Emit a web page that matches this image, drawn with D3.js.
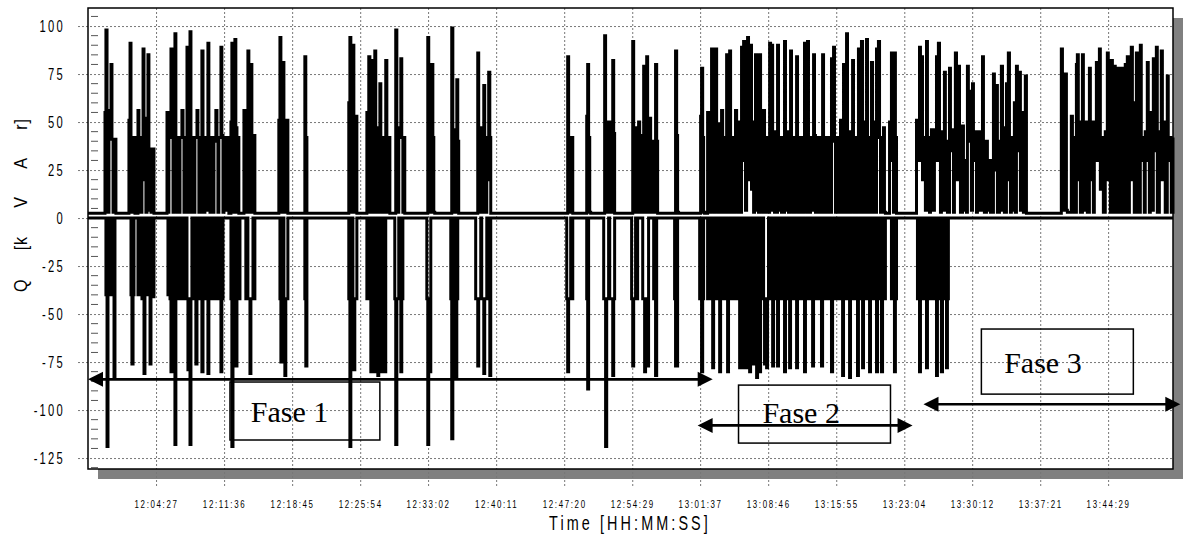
<!DOCTYPE html>
<html>
<head>
<meta charset="utf-8">
<script src="https://cdn.jsdelivr.net/npm/d3@7"></script>
<style>
  body { margin: 0; background: #fff; }
  .narrow { font-family: "Liberation Sans", Arial, sans-serif; fill: #000; }
  .fase { font-family: "Liberation Serif", "Times New Roman", serif; font-size: 30px; fill: #000; }
</style>
</head>
<body>
<svg id="chart" width="1183" height="542"></svg>
<script>
// recording window and axis ticks
const startClock = '11:57:18'
const endClock = '13:51:18'
const timeTicks = ['12:04:27', '12:11:36', '12:18:45', '12:25:54', '12:33:02', '12:40:11', '12:47:20',
  '12:54:29', '13:01:37', '13:08:46', '13:15:55', '13:23:04', '13:30:12', '13:37:21', '13:44:29']
const qTicks = [100, 75, 50, 25, 0, -25, -50, -75, -100, -125]

// Q [kVAr] change points: [seconds since start, value held until next point]
const fase1Pos = [[0, 2.5],
  [107, 55], [113, 98], [120, 47], [126, 3], [132, 47], [139, 56], [145, 80], [151, 41], [158, 3], [164, 41], [176, 2.5],
  [258, 51], [265, 91], [271, 42], [277, 3], [284, 42], [296, 2.5],
  [315, 56], [321, 3], [328, 42], [334, 3], [340, 42], [347, 88], [353, 20], [359, 52], [365, 3], [372, 52], [378, 85],
  [384, 4], [391, 36], [397, 3], [403, 36], [416, 2.5],
  [498, 55], [504, 3], [510, 42], [523, 88], [529, 42], [536, 3], [542, 42], [548, 96], [554, 42], [561, 3], [567, 42],
  [573, 3], [580, 42], [592, 56], [599, 42], [605, 3], [611, 42], [617, 3], [624, 89], [630, 42], [636, 3], [643, 97],
  [649, 42], [655, 3], [662, 42], [668, 3], [674, 42], [687, 56], [693, 42], [699, 3], [706, 42], [712, 3], [718, 87],
  [725, 42], [731, 3], [737, 42], [743, 4], [750, 42], [756, 91], [762, 42], [769, 3], [775, 42], [788, 3], [794, 40],
  [806, 56], [813, 42], [819, 3], [825, 42], [838, 89], [844, 43], [851, 3], [857, 42], [869, 4], [876, 42], [888, 2.5],
  [901, 50], [907, 91], [914, 42], [920, 3], [926, 93], [932, 47], [939, 3], [945, 42], [951, 2.5],
  [983, 56], [989, 3], [995, 42], [1002, 3], [1008, 87], [1014, 42], [1021, 3], [1027, 80], [1033, 43], [1040, 3],
  [1046, 43], [1052, 2.5],
  [1203, 51], [1210, 94], [1216, 51], [1222, 3], [1229, 81], [1235, 51], [1247, 3], [1254, 51], [1260, 2.5],
  [1367, 84], [1373, 42], [1380, 2.5],
  [1644, 60], [1651, 94], [1657, 50], [1663, 3], [1670, 90], [1676, 53], [1682, 3], [1688, 53], [1695, 2.5],
  [1758, 55], [1764, 3], [1770, 84], [1777, 42], [1783, 3], [1789, 82], [1796, 45], [1802, 3], [1808, 87], [1814, 47],
  [1821, 3], [1833, 47], [1840, 70], [1846, 42], [1852, 3], [1865, 42], [1871, 3], [1877, 82], [1884, 42], [1890, 3],
  [1896, 42], [1903, 2.5],
  [1940, 98], [1947, 47], [1953, 3], [1959, 47], [1972, 83], [1978, 42], [1985, 3], [1991, 42], [1997, 2.5],
  [2142, 94], [2148, 50], [2155, 3], [2161, 42], [2167, 80], [2174, 42], [2180, 3], [2186, 2.5],
  [2293, 99], [2300, 46], [2306, 3], [2318, 46], [2325, 72], [2331, 40], [2337, 2.5],
  [2457, 86], [2463, 47], [2470, 3], [2476, 47], [2482, 3], [2489, 47], [2495, 69], [2501, 42], [2507, 3], [2514, 42],
  [2520, 20], [2526, 76], [2533, 42], [2539, 2.5],
  [3024, 84], [3030, 39], [3037, 3], [3043, 42], [3056, 2.5],
  [3144, 53], [3150, 80], [3156, 42], [3163, 3], [3169, 2.5],
  [3257, 95], [3263, 50], [3270, 3], [3276, 44], [3282, 3], [3289, 50], [3295, 44], [3301, 3], [3308, 82], [3314, 44],
  [3320, 2.5],
  [3434, 92], [3440, 43], [3446, 3], [3452, 43], [3459, 47], [3465, 3], [3471, 50], [3478, 3], [3484, 43], [3490, 3],
  [3497, 43], [3503, 79], [3509, 40], [3515, 3], [3522, 84], [3528, 40], [3534, 3], [3541, 52], [3547, 3], [3553, 40],
  [3566, 3], [3572, 40], [3578, 80], [3585, 40], [3591, 2.5],
  [3704, 87], [3711, 43], [3717, 3], [3723, 2.5]]

const fase2Pos = [
  [3862, 53], [3868, 78], [3875, 42], [3881, 3], [3887, 2.5], [3906, 55], [3912, 41], [3919, 3], [3925, 42], [3931, 88],
  [3938, 42], [3944, 3], [3950, 42], [3956, 88], [3963, 42], [3969, 3], [3975, 42], [3982, 49], [3988, 3], [3994, 56],
  [4001, 42], [4007, 3], [4013, 42], [4019, 3], [4026, 85], [4032, 42], [4038, 3], [4045, 87], [4051, 42], [4057, 3],
  [4064, 42], [4070, 3], [4076, 42], [4082, 56], [4089, 42], [4095, 3], [4101, 42], [4108, 50], [4114, 3], [4120, 89],
  [4127, 30], [4133, 92], [4139, 50], [4145, 4], [4152, 55], [4158, 94], [4164, 20], [4171, 55], [4177, 90], [4183, 15],
  [4190, 50], [4196, 3], [4202, 45], [4208, 85], [4215, 4], [4221, 50], [4227, 3], [4234, 85], [4240, 20], [4246, 50],
  [4253, 3], [4259, 56], [4265, 3], [4271, 42], [4278, 3], [4284, 42], [4290, 3], [4297, 91], [4303, 40], [4309, 90],
  [4316, 4], [4322, 45], [4328, 3], [4334, 42], [4341, 3], [4347, 90], [4353, 42], [4360, 4], [4366, 42], [4372, 3],
  [4379, 42], [4385, 3], [4391, 92], [4397, 45], [4404, 4], [4410, 45], [4416, 3], [4423, 42], [4429, 87], [4435, 42],
  [4442, 3], [4448, 42], [4454, 3], [4460, 42], [4467, 84], [4473, 42], [4479, 3], [4486, 42], [4492, 3], [4498, 42],
  [4505, 3], [4511, 42], [4517, 91], [4523, 42], [4530, 3], [4536, 92], [4542, 42], [4549, 3], [4555, 42], [4561, 4],
  [4568, 42], [4574, 85], [4580, 43], [4586, 3], [4593, 42], [4599, 3], [4605, 42], [4612, 3], [4618, 42], [4624, 3],
  [4631, 85], [4637, 42], [4643, 3], [4649, 42], [4656, 3], [4662, 42], [4668, 3], [4675, 40], [4681, 3], [4687, 83],
  [4694, 40], [4700, 89], [4706, 42], [4712, 3], [4719, 42], [4725, 3], [4731, 42], [4738, 3], [4744, 51], [4750, 35],
  [4757, 3], [4763, 80], [4769, 40], [4775, 3], [4782, 96], [4788, 45], [4794, 3], [4801, 45], [4807, 3], [4813, 45],
  [4820, 82], [4826, 42], [4832, 3], [4838, 42], [4845, 3], [4851, 42], [4857, 88], [4864, 40], [4870, 3], [4876, 92],
  [4883, 50], [4889, 3], [4895, 50], [4901, 3], [4908, 93], [4914, 42], [4920, 3], [4927, 42], [4933, 3], [4939, 81],
  [4946, 45], [4952, 3], [4958, 50], [4964, 3], [4971, 88], [4977, 45], [4983, 92], [4990, 42], [4996, 3], [5002, 40],
  [5009, 3], [5015, 47], [5021, 3], [5027, 2.5], [5053, 50], [5059, 30], [5065, 86], [5072, 40], [5078, 3], [5084, 86],
  [5090, 42], [5097, 2.5]]

const fase3Pos = [
  [5223, 51], [5229, 30], [5242, 89], [5248, 40], [5254, 84], [5261, 20], [5273, 42], [5279, 4], [5286, 92], [5292, 40],
  [5305, 3], [5311, 42], [5317, 46], [5330, 4], [5336, 42], [5349, 84], [5355, 30], [5361, 91], [5368, 45], [5374, 3],
  [5380, 45], [5393, 4], [5399, 76], [5405, 20], [5412, 40], [5418, 3], [5431, 78], [5437, 35], [5450, 46], [5456, 3],
  [5462, 40], [5468, 86], [5475, 20], [5487, 79], [5494, 42], [5500, 3], [5513, 48], [5519, 4], [5531, 30], [5538, 3],
  [5544, 79], [5550, 40], [5563, 66], [5569, 4], [5576, 70], [5582, 30], [5594, 45], [5601, 3], [5607, 45], [5620, 4],
  [5632, 32], [5639, 84], [5645, 30], [5651, 3], [5664, 40], [5670, 4], [5683, 30], [5689, 3], [5708, 75], [5714, 25],
  [5727, 69], [5733, 3], [5746, 40], [5752, 4], [5758, 79], [5765, 30], [5771, 47], [5777, 3], [5790, 70], [5796, 20],
  [5802, 86], [5809, 40], [5815, 3], [5821, 42], [5828, 4], [5840, 60], [5846, 3], [5853, 79], [5859, 35], [5872, 76],
  [5878, 4], [5891, 55], [5897, 3], [5909, 74], [5916, 2.5],
  [6136, 88], [6143, 4], [6161, 75], [6168, 4], [6174, 3], [6187, 3], [6199, 53], [6206, 4], [6212, 42], [6218, 3],
  [6231, 80], [6237, 85], [6243, 20], [6250, 50], [6256, 3], [6269, 85], [6275, 30], [6287, 4], [6294, 50], [6300, 3],
  [6313, 78], [6319, 20], [6332, 50], [6338, 3], [6344, 40], [6357, 81], [6363, 30], [6376, 88], [6382, 15], [6388, 42],
  [6401, 3], [6413, 45], [6426, 86], [6432, 20], [6439, 45], [6445, 3], [6451, 82], [6458, 35], [6464, 3], [6470, 79],
  [6476, 30], [6483, 3], [6495, 78], [6502, 40], [6508, 3], [6521, 78], [6527, 40], [6533, 3], [6539, 80], [6546, 30],
  [6552, 84], [6558, 3], [6565, 45], [6577, 89], [6584, 20], [6590, 60], [6596, 3], [6609, 86], [6615, 40], [6621, 3],
  [6634, 90], [6640, 30], [6653, 42], [6659, 3], [6665, 45], [6678, 81], [6684, 30], [6691, 3], [6697, 55], [6703, 4],
  [6716, 83], [6722, 35], [6735, 89], [6741, 3], [6754, 45], [6766, 87], [6773, 20], [6785, 50], [6791, 3], [6804, 74],
  [6810, 30], [6823, 42], [6829, 3], [6840, 42]]

const fase1Neg = [[0, 0],
  [113, -40], [120, -119], [126, -40], [132, 0], [139, -40], [145, 0], [151, -40], [158, 0], [164, -83], [170, 0],
  [271, -40], [277, -76], [284, -40], [290, 0],
  [315, -40], [321, 0], [328, -40], [334, 0], [340, -42], [347, 0], [353, -81], [359, 0],
  [378, -40], [384, 0], [391, -76], [397, -40], [403, 0], [410, -41], [416, 0],
  [504, -40], [510, 0], [517, -42], [523, -80], [529, -42], [536, 0], [542, -42], [548, -118], [554, -42], [561, 0],
  [580, -42], [586, 0], [592, -42], [599, 0], [611, -42], [617, 0], [624, -42], [630, -79], [636, -42],
  [643, -118], [649, -42], [655, 0], [668, -42], [674, 0], [680, -76], [687, -42], [699, 0], [712, -42],
  [718, -80], [725, -42], [731, 0], [743, -42], [750, 0], [756, -81], [762, -42], [775, 0], [781, -42],
  [788, 0], [794, -42], [800, 0], [806, -42], [813, 0], [819, -42], [825, 0], [832, -42], [838, -80], [844, -42],
  [851, 0],
  [901, -42], [907, -119], [914, -42], [920, 0], [926, -42], [932, -77], [939, -42], [945, 0], [951, -42], [958, 0],
  [995, -42], [1002, 0], [1008, -42], [1021, -81], [1027, -42], [1040, 0], [1046, -42], [1052, 0],
  [1210, -42], [1216, -75], [1222, -42], [1229, 0], [1235, -42], [1241, -82], [1247, -42], [1260, 0],
  [1367, -42], [1373, -77], [1380, 0],
  [1644, -42], [1651, -119], [1657, -42], [1663, 0], [1670, -42], [1676, -79], [1682, -42], [1695, 0],
  [1758, -42], [1764, 0], [1770, -42], [1777, 0], [1783, -80], [1789, -42], [1796, 0], [1802, -42], [1808, -80],
  [1814, -42], [1821, 0], [1827, -82], [1833, -42], [1840, 0], [1846, -80], [1852, -42], [1859, 0], [1865, -42],
  [1871, -80], [1877, 0],
  [1934, -42], [1940, -118], [1947, -42], [1959, 0], [1966, -42], [1972, -80], [1978, -42], [1985, 0],
  [2136, -42], [2142, -118], [2148, -42], [2155, -80], [2161, 0],
  [2287, -42], [2293, -115], [2300, -42], [2306, 0], [2312, -42], [2318, -83], [2325, -42], [2331, 0],
  [2444, -42], [2457, -77], [2463, -42], [2476, 0], [2482, -42], [2495, -81], [2501, -42], [2514, 0], [2520, -42],
  [2533, -82], [2539, 0],
  [3018, -42], [3024, -80], [3030, -42], [3043, 0], [3049, -42], [3056, 0],
  [3144, -42], [3150, -89], [3156, 0],
  [3251, -42], [3263, -119], [3270, -42], [3282, 0], [3289, -42], [3308, -82], [3314, -42], [3320, 0],
  [3427, -42], [3434, -77], [3440, -42], [3452, 0], [3459, -42], [3465, 0], [3497, -42], [3509, -80], [3515, -42],
  [3528, -77], [3534, 0],
  [3566, -42], [3578, -82], [3585, 0],
  [3698, -42], [3704, -77], [3717, 0]]

const fase2Neg = [
  [3856, -42], [3862, 0], [3868, -80], [3875, -42], [3881, 0], [3906, -42], [3912, 0], [3919, -42], [3925, 0],
  [3931, -42], [3938, -78], [3944, -42], [3950, 0], [3956, -42], [3963, 0], [3969, -42], [3975, 0], [3982, -80],
  [3988, -42], [3994, 0], [4001, -42], [4007, 0], [4013, -42], [4019, 0], [4026, -42], [4032, -80], [4038, -42],
  [4045, 0], [4051, -42], [4057, 0], [4064, -42], [4070, 0], [4076, -42], [4082, 0], [4089, -42], [4095, 0],
  [4101, -42], [4108, -78], [4114, -42], [4120, 0], [4127, -42], [4133, -78], [4139, -42], [4145, 0], [4152, -78],
  [4158, -42], [4164, 0], [4171, -80], [4177, -42], [4183, 0], [4190, -42], [4196, -76], [4202, -42], [4208, 0],
  [4215, -83], [4221, -42], [4227, 0], [4234, -80], [4240, -20], [4246, -42], [4253, 0], [4259, -42], [4265, -76],
  [4271, -42], [4278, -78], [4284, -42], [4290, 0], [4297, -42], [4303, 0], [4309, -42], [4316, -77], [4322, -42],
  [4328, 0], [4334, -42], [4341, 0], [4347, -77], [4353, -42], [4360, 0], [4366, -42], [4372, 0], [4379, -42],
  [4385, 0], [4391, -80], [4397, -42], [4404, 0], [4410, -42], [4416, 0], [4423, -78], [4429, -42], [4435, 0],
  [4442, -42], [4448, 0], [4454, -42], [4460, 0], [4467, -78], [4473, -42], [4479, 0], [4486, -42], [4492, 0],
  [4498, -42], [4505, 0], [4511, -42], [4517, -80], [4523, -42], [4530, 0], [4536, -42], [4542, 0], [4549, -42],
  [4555, 0], [4561, -42], [4568, -77], [4574, -42], [4580, 0], [4586, -42], [4593, 0], [4599, -42], [4605, 0],
  [4612, -42], [4618, 0], [4624, -77], [4631, -42], [4637, 0], [4643, -42], [4649, 0], [4656, -42], [4662, 0],
  [4668, -42], [4675, 0], [4681, -42], [4687, -80], [4694, -42], [4700, 0], [4706, -42], [4712, 0], [4719, -42],
  [4725, 0], [4731, -42], [4738, 0], [4744, -42], [4750, 0], [4757, -82], [4763, -42], [4769, 0], [4775, -42],
  [4782, 0], [4788, -42], [4794, 0], [4801, -83], [4807, -42], [4813, 0], [4820, -42], [4826, 0], [4832, -42],
  [4838, 0], [4845, -42], [4851, -82], [4857, -42], [4864, 0], [4870, -42], [4876, 0], [4883, -78], [4889, -42],
  [4895, 0], [4901, -42], [4908, 0], [4914, -42], [4920, 0], [4927, -80], [4933, -42], [4939, 0], [4946, -42],
  [4952, 0], [4958, -42], [4964, 0], [4971, -80], [4977, -42], [4983, 0], [4990, -42], [4996, 0], [5002, -80],
  [5009, -42], [5015, 0], [5021, -42], [5027, 0], [5065, -42], [5072, 0], [5078, -42], [5084, -80], [5090, -42],
  [5097, 0]]

const fase3Neg = [
  [5229, -42], [5235, 0], [5242, -80], [5248, -42], [5254, 0], [5261, -42], [5267, 0], [5273, -42], [5279, 0],
  [5286, -78], [5292, -42], [5298, 0], [5305, -42], [5311, 0], [5317, -42], [5324, 0], [5330, -42], [5336, 0],
  [5342, -42], [5349, -82], [5355, -42], [5361, 0], [5368, -42], [5374, 0], [5380, -80], [5387, -42], [5393, 0],
  [5399, -42], [5405, 0], [5412, -78], [5418, -42], [5424, 0], [6840, 0]]

// phase annotations, in time / kVAr coordinates
const phaseArrows = [
  { from: '11:57:18', to: '13:02:56', q: -84 },
  { from: '13:01:21', to: '13:23:56', q: -108 },
  { from: '13:25:05', to: '13:52:04', q: -97 }
]
const phaseBoxes = [
  { label: 'Fase 1', from: '12:12:13', to: '12:27:58', top: -85.4, bottom: -115.6, textAt: '12:18:29', textQ: -106 },
  { label: 'Fase 2', from: '13:05:39', to: '13:21:37', top: -87, bottom: -117.2, textAt: '13:12:14', textQ: -106.8 },
  { label: 'Fase 3', from: '13:31:10', to: '13:47:08', top: -57.8, bottom: -91.7, textAt: '13:37:38', textQ: -80.5 }
]

const margin = { top: 8, left: 88 }
const width = 1085
const height = 461
const shadow = 10

const parseClock = d3.timeParse('%H:%M:%S')
const t0 = parseClock(startClock)
const toDate = s => d3.timeSecond.offset(t0, s)

const x = d3.scaleTime().domain([t0, parseClock(endClock)]).range([0, width])
const y = d3.scaleLinear().domain([-130.7, 109.4]).range([height, 0])

const svg = d3.select('#chart')
const g = svg.append('g').attr('transform', `translate(${margin.left},${margin.top})`)

/**
 * Squeezes text horizontally so it looks like the narrow font of the original.
 *
 * @param {*} texts The d3 selection of text elements
 * @param {number} k The horizontal scale factor
 */
function condense (texts, k) {
  texts.each(function () {
    const t = d3.select(this)
    const x0 = +t.attr('x') || 0
    t.attr('x', x0 / k).attr('transform', `scale(${k},1)`)
  })
}

/**
 * Draws the drop shadow and the white plotting area.
 */
function drawFrameBackground () {
  g.append('rect')
    .attr('x', shadow).attr('y', shadow)
    .attr('width', width).attr('height', height)
    .style('fill', '#808080')
  g.append('rect')
    .attr('width', width).attr('height', height)
    .style('fill', '#fff')
}

/**
 * Draws both axes with their dashed grid lines and the minor ticks.
 */
function drawAxes () {
  const xAxis = d3.axisBottom(x)
    .tickValues(timeTicks.map(parseClock))
    .tickFormat(d3.timeFormat('%H:%M:%S'))
    .tickSizeInner(-(height + 17))
    .tickSizeOuter(0)
    .tickPadding(14)
  const gx = g.append('g')
    .attr('transform', `translate(0,${height + 17})`)
    .call(xAxis)
  gx.select('.domain').remove()
  gx.selectAll('line').style('stroke', '#777').style('stroke-dasharray', '2,2')
  gx.selectAll('text')
    .attr('class', 'narrow')
    .style('font-size', '11px')
    .style('letter-spacing', '2.3px')
    .call(condense, 0.72)

  const yAxis = d3.axisLeft(y)
    .tickValues(qTicks)
    .tickFormat(d => String(d))
    .tickSizeInner(-(width + 10))
    .tickSizeOuter(0)
    .tickPadding(13)
  const gy = g.append('g')
    .attr('transform', 'translate(-10,0)')
    .call(yAxis)
  gy.select('.domain').remove()
  gy.selectAll('line').style('stroke', '#777').style('stroke-dasharray', '2,2')
  gy.selectAll('text')
    .attr('class', 'narrow')
    .style('font-size', '16px')
    .style('letter-spacing', '3.2px')
    .call(condense, 0.7)

  // minor ticks every 5 kVAr on the inside of the left border
  const minor = d3.range(-130, 110, 5).filter(v => !qTicks.includes(v))
  g.append('g')
    .selectAll('line')
    .data(minor)
    .enter()
    .append('line')
    .attr('x1', 3).attr('x2', 10)
    .attr('y1', d => y(d)).attr('y2', d => y(d))
    .style('stroke', '#555')
}

/**
 * Draws the two Q traces as step lines, then the plot border.
 */
function drawTraces () {
  const line = d3.line()
    .x(d => x(toDate(d[0])))
    .y(d => y(d[1]))
    .curve(d3.curveStepAfter)
  const traces = [
    fase1Neg.concat(fase2Neg, fase3Neg),
    fase1Pos.concat(fase2Pos, fase3Pos)
  ]
  g.append('g')
    .selectAll('path')
    .data(traces)
    .enter()
    .append('path')
    .attr('d', line)
    .style('fill', 'none')
    .style('stroke', '#000')
    .style('stroke-width', 3)

  g.append('rect')
    .attr('width', width).attr('height', height)
    .style('fill', 'none')
    .style('stroke', '#000')
    .style('stroke-width', 1.5)
}

/**
 * Draws the phase arrows, boxes and labels.
 */
function drawPhases () {
  const head = 15
  const half = 7.5
  phaseArrows.forEach(a => {
    const x1 = x(parseClock(a.from))
    const x2 = x(parseClock(a.to))
    const yy = y(a.q)
    g.append('line')
      .attr('x1', x1 + 4).attr('x2', x2 - 4)
      .attr('y1', yy).attr('y2', yy)
      .style('stroke', '#000').style('stroke-width', 2.6)
    g.append('path')
      .attr('d', `M${x1},${yy}L${x1 + head},${yy - half}L${x1 + head},${yy + half}Z`)
      .style('fill', '#000')
    g.append('path')
      .attr('d', `M${x2},${yy}L${x2 - head},${yy - half}L${x2 - head},${yy + half}Z`)
      .style('fill', '#000')
  })

  phaseBoxes.forEach(b => {
    const x1 = x(parseClock(b.from))
    const x2 = x(parseClock(b.to))
    g.append('rect')
      .attr('x', x1).attr('y', y(b.top))
      .attr('width', x2 - x1).attr('height', y(b.bottom) - y(b.top))
      .style('fill', 'none')
      .style('stroke', '#000')
      .style('stroke-width', 1.5)
    g.append('text')
      .attr('class', 'fase')
      .attr('x', x(parseClock(b.textAt)))
      .attr('y', y(b.textQ))
      .attr('text-anchor', 'middle')
      .text(b.label)
  })
}

/**
 * Writes the axis titles.
 */
function drawTitles () {
  svg.append('text')
    .attr('class', 'narrow')
    .attr('transform', 'translate(27,205) rotate(-90) scale(0.85,1)')
    .attr('text-anchor', 'middle')
    .style('font-size', '19px')
    .style('letter-spacing', '1px')
    .style('word-spacing', '27px')
    .text('Q [k V A r]')

  svg.append('text')
    .attr('class', 'narrow')
    .attr('transform', 'translate(630,530) scale(0.72,1)')
    .attr('text-anchor', 'middle')
    .style('font-size', '20px')
    .style('letter-spacing', '4.3px')
    .text('Time [HH:MM:SS]')
}

drawFrameBackground()
drawAxes()
drawTraces()
drawPhases()
drawTitles()
</script>
</body>
</html>
